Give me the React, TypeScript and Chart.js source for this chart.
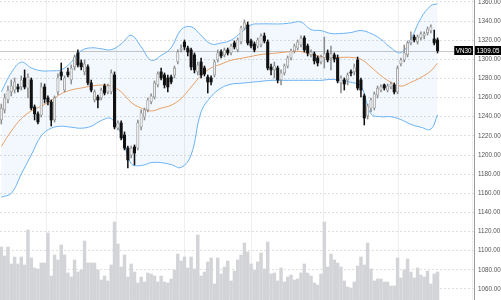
import React, { useEffect, useRef } from 'react';
import { Chart, registerables } from 'chart.js';

Chart.register(...registerables);

const symbol = 'VN30';
const lastPrice = 1309.05;

const opens = [
  1236.6, 1247.1, 1257.5, 1265.9, 1267.9, 1271.1, 1271.1, 1280.5, 1270.0, 1278.4,
  1250.2, 1242.9, 1241.8, 1271.1, 1259.6, 1255.4, 1236.6, 1265.9, 1286.8, 1267.9,
  1286.8, 1278.4, 1292.0, 1306.6, 1296.2, 1286.8, 1292.0, 1275.3, 1257.5, 1260.6,
  1259.6, 1272.1, 1265.9, 1265.9, 1283.6, 1228.2, 1233.5, 1220.9, 1207.3, 1200.0,
  1208.4, 1207.3, 1229.3, 1239.7, 1247.1, 1255.4, 1260.6, 1273.2, 1286.8, 1283.6,
  1280.5, 1281.5, 1283.6, 1297.2, 1309.8, 1318.1, 1311.8, 1309.8, 1304.5, 1286.8,
  1297.2, 1290.9, 1281.5, 1280.5, 1283.6, 1299.3, 1307.7, 1304.5, 1309.8, 1306.6,
  1317.1, 1309.8, 1318.1, 1332.7, 1335.9, 1319.2, 1316.0, 1313.9, 1315.0, 1324.4,
  1318.1, 1292.0, 1288.9, 1290.9, 1278.4, 1285.7, 1293.0, 1301.4, 1308.7, 1311.8,
  1315.0, 1322.3, 1313.9, 1304.5, 1305.6, 1301.4, 1297.2, 1301.4, 1306.6, 1301.4,
  1304.5, 1301.4, 1275.3, 1278.4, 1278.4, 1286.8, 1286.8, 1299.3, 1278.4, 1261.7,
  1240.8, 1249.1, 1249.1, 1262.7, 1267.9, 1273.2, 1267.9, 1271.1, 1273.2, 1265.9,
  1295.1, 1299.3, 1304.5, 1317.1, 1323.3, 1318.1, 1322.3, 1324.4, 1327.5, 1329.6,
  1321.2, 1320.2,
];

const closes = [
  1249.1, 1259.6, 1267.9, 1272.1, 1276.3, 1269.0, 1278.4, 1271.1, 1281.5, 1249.1,
  1242.9, 1234.5, 1271.1, 1258.5, 1255.4, 1236.6, 1259.6, 1280.5, 1282.6, 1280.5,
  1283.6, 1290.9, 1302.4, 1294.1, 1292.0, 1295.1, 1275.3, 1267.9, 1265.9, 1257.5,
  1267.9, 1264.8, 1272.1, 1285.7, 1229.3, 1233.5, 1217.8, 1207.3, 1194.8, 1207.3,
  1202.1, 1233.5, 1243.9, 1247.1, 1257.5, 1261.7, 1275.3, 1284.7, 1280.5, 1273.2,
  1271.1, 1276.3, 1290.9, 1307.7, 1311.8, 1312.9, 1307.7, 1292.0, 1288.9, 1294.1,
  1283.6, 1284.7, 1276.3, 1276.3, 1297.2, 1306.6, 1303.5, 1309.8, 1306.6, 1313.9,
  1312.9, 1320.2, 1332.7, 1338.0, 1317.1, 1313.9, 1309.8, 1320.2, 1324.4, 1319.2,
  1290.9, 1288.9, 1293.0, 1278.4, 1285.7, 1293.0, 1301.4, 1308.7, 1313.9, 1318.1,
  1322.3, 1309.8, 1306.6, 1307.7, 1298.3, 1296.2, 1302.4, 1305.6, 1299.3, 1305.6,
  1300.3, 1277.4, 1280.5, 1274.2, 1283.6, 1285.7, 1292.0, 1270.0, 1267.9, 1238.7,
  1251.2, 1257.5, 1263.8, 1270.0, 1271.1, 1270.0, 1272.1, 1274.2, 1265.9, 1290.9,
  1299.3, 1306.6, 1317.1, 1320.2, 1320.2, 1323.3, 1326.5, 1326.5, 1331.7, 1333.8,
  1317.1, 1309.05,
];

const highs = [
  1253.3, 1263.8, 1272.1, 1278.4, 1280.5, 1274.2, 1282.6, 1288.9, 1284.7, 1280.5,
  1252.3, 1245.0, 1275.3, 1274.2, 1261.7, 1257.5, 1261.7, 1284.7, 1296.2, 1282.6,
  1290.9, 1294.1, 1304.5, 1309.8, 1299.3, 1299.3, 1294.1, 1278.4, 1267.9, 1262.7,
  1270.0, 1274.2, 1274.2, 1288.9, 1286.8, 1235.6, 1235.6, 1224.1, 1209.4, 1209.4,
  1210.5, 1236.6, 1247.1, 1249.1, 1259.6, 1263.8, 1277.4, 1286.8, 1290.9, 1285.7,
  1283.6, 1283.6, 1293.0, 1309.8, 1315.0, 1320.2, 1313.9, 1311.8, 1306.6, 1297.2,
  1301.4, 1293.0, 1283.6, 1282.6, 1299.3, 1309.8, 1309.8, 1311.8, 1311.8, 1316.0,
  1319.2, 1322.3, 1334.8, 1341.1, 1339.0, 1321.2, 1318.1, 1322.3, 1326.5, 1327.5,
  1320.2, 1295.1, 1297.2, 1293.0, 1288.9, 1295.1, 1303.5, 1310.8, 1316.0, 1320.2,
  1324.4, 1324.4, 1316.0, 1309.8, 1307.7, 1303.5, 1304.5, 1323.3, 1309.8, 1313.9,
  1306.6, 1304.5, 1282.6, 1280.5, 1285.7, 1288.9, 1295.1, 1302.4, 1280.5, 1263.8,
  1253.3, 1259.6, 1265.9, 1272.1, 1273.2, 1274.2, 1274.2, 1276.3, 1275.3, 1293.0,
  1301.4, 1315.0, 1319.2, 1328.6, 1325.4, 1325.4, 1328.6, 1328.6, 1333.8, 1335.9,
  1330.6, 1322.3,
];

const lows = [
  1232.4, 1243.9, 1254.4, 1261.7, 1264.8, 1265.9, 1267.9, 1269.0, 1259.6, 1247.1,
  1236.6, 1232.4, 1239.7, 1254.4, 1252.3, 1230.3, 1234.5, 1262.7, 1278.4, 1265.9,
  1281.5, 1274.2, 1288.9, 1292.0, 1288.9, 1283.6, 1273.2, 1265.9, 1255.4, 1249.1,
  1257.5, 1262.7, 1263.8, 1263.8, 1227.2, 1226.2, 1215.7, 1205.3, 1186.4, 1196.9,
  1189.6, 1205.3, 1226.2, 1236.6, 1245.0, 1253.3, 1258.5, 1271.1, 1278.4, 1270.0,
  1265.9, 1274.2, 1280.5, 1295.1, 1307.7, 1309.8, 1303.5, 1288.9, 1285.7, 1283.6,
  1280.5, 1282.6, 1264.8, 1273.2, 1281.5, 1297.2, 1301.4, 1302.4, 1304.5, 1304.5,
  1310.8, 1307.7, 1316.0, 1330.6, 1315.0, 1311.8, 1307.7, 1311.8, 1312.9, 1317.1,
  1288.9, 1283.6, 1280.5, 1275.3, 1273.2, 1283.6, 1290.9, 1299.3, 1306.6, 1309.8,
  1312.9, 1307.7, 1303.5, 1302.4, 1295.1, 1293.0, 1295.1, 1290.9, 1297.2, 1288.9,
  1297.2, 1275.3, 1264.8, 1267.9, 1273.2, 1282.6, 1283.6, 1267.9, 1260.6, 1231.4,
  1237.6, 1245.0, 1247.1, 1259.6, 1265.9, 1267.9, 1265.9, 1269.0, 1263.8, 1263.8,
  1293.0, 1297.2, 1302.4, 1315.0, 1318.1, 1316.0, 1320.2, 1321.2, 1325.4, 1327.5,
  1315.0, 1306.6,
];

const volumes = [
  53, 44, 53, 36, 43, 36, 43, 35, 70, 42,
  32, 31, 37, 37, 67, 24, 45, 40, 55, 45,
  27, 23, 40, 28, 30, 59, 37, 37, 37, 30,
  20, 24, 19, 35, 78, 56, 33, 45, 23, 36,
  28, 17, 23, 18, 27, 26, 24, 18, 24, 18,
  17, 21, 30, 46, 39, 43, 32, 43, 31, 65,
  24, 28, 38, 42, 16, 42, 26, 33, 39, 19,
  29, 40, 45, 57, 48, 36, 30, 38, 47, 31,
  58, 26, 27, 19, 32, 18, 23, 25, 20, 21,
  27, 36, 27, 24, 17, 15, 26, 78, 33, 46,
  40, 37, 33, 19, 13, 12, 18, 34, 43, 35,
  57, 31, 19, 21, 21, 18, 18, 14, 14, 42,
  22, 30, 41, 28, 22, 32, 25, 23, 29, 16,
  26, 28,
];

const bandSlots = [
  0, 3, 6, 9, 12, 15, 18, 21, 24, 27, 30, 33, 36, 39, 42, 45, 48, 51, 54, 57, 60, 63,
  66, 69, 72, 75, 78, 81, 84, 87, 90, 93, 96, 99, 102, 105, 108, 111, 114, 117, 120,
  123, 126, 129, 131,
];

const upperBand = [
  1266, 1286, 1297, 1291, 1288, 1288, 1289, 1297, 1309, 1312, 1311, 1310, 1316, 1325,
  1313, 1299, 1304, 1312, 1331, 1334, 1325, 1316, 1317, 1320, 1328, 1336, 1337, 1337,
  1337, 1338, 1339, 1331, 1330, 1327, 1327, 1328, 1330, 1327, 1321, 1312, 1307, 1321,
  1343, 1356, 1358,
];

const lowerBand = [
  1156, 1160, 1180, 1200, 1220, 1228, 1230, 1229, 1228, 1230, 1236, 1238, 1222, 1191,
  1189, 1192, 1192, 1190, 1187, 1200, 1245, 1261, 1270, 1274, 1275, 1276, 1277, 1278,
  1278, 1278, 1278, 1278, 1278, 1279, 1278, 1276, 1272, 1243, 1240, 1240, 1237, 1232,
  1229, 1227, 1242,
];

const maLine = [
  1209, 1225, 1238, 1246, 1251, 1257, 1264, 1268, 1270, 1272, 1273, 1272, 1266, 1255,
  1249, 1246, 1249, 1252, 1259, 1271, 1283, 1291, 1295, 1299, 1301, 1303, 1305, 1306,
  1307, 1308, 1308, 1305, 1303, 1302, 1302, 1302, 1300, 1292, 1283, 1276, 1272, 1276,
  1281, 1288, 1296,
];

const monthLines = [3.2, 24.2, 44.7, 65.1, 85.2, 108.3, 130.5];

const priceTicks = [
  1060, 1080, 1100, 1120, 1140, 1160, 1180, 1200, 1220, 1240, 1260, 1280, 1300, 1320,
  1340, 1360,
];

const FONT = '"Liberation Sans", Arial, sans-serif';

const overlayPlugin = {
  id: 'priceOverlay',
  beforeDatasetsDraw(chart: any) {
    const { ctx, chartArea, scales } = chart;
    const y = Math.round(scales.y.getPixelForValue(lastPrice)) + 0.5;
    ctx.save();
    ctx.strokeStyle = '#c9c9c9';
    ctx.lineWidth = 1;
    ctx.beginPath();
    ctx.moveTo(chartArea.left, y);
    ctx.lineTo(chartArea.right, y);
    ctx.stroke();
    ctx.restore();
  },
  afterDraw(chart: any) {
    const { ctx, chartArea, scales, width } = chart;
    const y = scales.y.getPixelForValue(lastPrice);
    const h = 9;
    const top = Math.round(y - h / 2);
    ctx.save();
    ctx.font = `6.3px ${FONT}`;
    ctx.textBaseline = 'middle';
    ctx.textAlign = 'center';
    // symbol box (inside plot)
    const sw = ctx.measureText(symbol).width + 3;
    const sx = chartArea.right - 1 - sw;
    ctx.fillStyle = '#000';
    ctx.fillRect(sx, top, sw, h);
    ctx.fillStyle = '#fff';
    ctx.fillText(symbol, sx + sw / 2, top + h / 2 + 0.5);
    // price box (on axis)
    const px = chartArea.right + 1;
    const pw = width - px;
    ctx.fillStyle = '#000';
    ctx.fillRect(px, top, pw, h);
    ctx.fillStyle = '#fff';
    ctx.fillText(lastPrice.toFixed(2), px + pw / 2, top + h / 2 + 0.5);
    ctx.restore();
  },
};

export default function App() {
  const ref = useRef<HTMLCanvasElement>(null);

  useEffect(() => {
    document.body.style.margin = '0';
    document.documentElement.style.overflow = 'hidden';
    const canvas = ref.current;
    if (!canvas) return;

    const idx = opens.map((_, i) => i);
    const isUp = idx.map((i) => closes[i] >= opens[i]);
    const upBody = '#ececec';
    const upLine = '#8e8e8e';
    const downCol = '#111111';

    const line = (vals: number[]) => bandSlots.map((s, i) => ({ x: s, y: vals[i] }));

    const chart = new Chart(canvas, {
      type: 'bar',
      data: {
        datasets: [
          {
            type: 'bar',
            label: 'body',
            data: idx.map((i) => ({ x: i, y: [opens[i], closes[i]] })) as any,
            backgroundColor: idx.map((i) => (isUp[i] ? upBody : downCol)),
            borderColor: idx.map((i) => (isUp[i] ? upLine : downCol)),
            borderWidth: idx.map((i) => (isUp[i] ? 0.7 : 0)) as any,
            borderSkipped: false,
            barThickness: 2.4,
            minBarLength: 1,
            grouped: false,
            order: 0,
            yAxisID: 'y',
          },
          {
            type: 'bar',
            label: 'wick',
            data: idx.map((i) => ({ x: i, y: [lows[i], highs[i]] })) as any,
            backgroundColor: idx.map((i) => (isUp[i] ? upLine : downCol)),
            borderWidth: 0,
            barThickness: 0.9,
            grouped: false,
            order: 1,
            yAxisID: 'y',
          },
          {
            type: 'line',
            label: 'upper',
            data: line(upperBand) as any,
            borderColor: '#6db3f2',
            borderWidth: 1,
            pointRadius: 0,
            tension: 0.4,
            fill: '+1',
            backgroundColor: 'rgba(40,140,235,0.06)',
            order: 2,
            yAxisID: 'y',
          },
          {
            type: 'line',
            label: 'lower',
            data: line(lowerBand) as any,
            borderColor: '#6db3f2',
            borderWidth: 1,
            pointRadius: 0,
            tension: 0.4,
            fill: false,
            order: 3,
            yAxisID: 'y',
          },
          {
            type: 'line',
            label: 'ma',
            data: line(maLine) as any,
            borderColor: '#f5a15d',
            borderWidth: 1,
            pointRadius: 0,
            tension: 0.4,
            fill: false,
            order: 2,
            yAxisID: 'y',
          },
          {
            type: 'bar',
            label: 'volume',
            data: idx.map((i) => ({ x: i, y: volumes[i] })) as any,
            backgroundColor: '#d3d4d8',
            borderWidth: 0,
            barThickness: 2.8,
            grouped: false,
            order: 5,
            yAxisID: 'yv',
          },
        ],
      },
      options: {
        responsive: false,
        animation: false,
        events: [],
        layout: { padding: 0 },
        plugins: {
          legend: { display: false },
          tooltip: { enabled: false },
        },
        scales: {
          x: {
            type: 'linear',
            min: -0.39,
            max: 141.95,
            offset: false,
            display: true,
            ticks: { display: false },
            grid: { color: '#efefef', lineWidth: 1, drawTicks: false },
            border: { display: false },
            afterBuildTicks: (scale: any) => {
              scale.ticks = monthLines.map((v) => ({ value: v }));
            },
            afterFit: (scale: any) => {
              scale.height = 0;
              scale.paddingLeft = 0;
              scale.paddingRight = 0;
            },
          },
          y: {
            type: 'linear',
            position: 'right',
            min: 1048.5,
            max: 1361.96,
            afterBuildTicks: (scale: any) => {
              scale.ticks = priceTicks.map((v) => ({ value: v }));
            },
            afterFit: (scale: any) => {
              scale.width = 27;
              scale.paddingTop = 0;
              scale.paddingBottom = 0;
            },
            ticks: {
              autoSkip: false,
              padding: 4,
              color: '#555555',
              font: { family: FONT, size: 6.3 },
              callback: (v: any) => Number(v).toFixed(2),
            },
            grid: { color: '#dedede', lineWidth: 1, drawTicks: false },
            border: { display: true, color: '#9a9a9a', width: 1, dash: [2, 2] },
          },
          yv: {
            type: 'linear',
            display: false,
            min: 0,
            max: 300,
          },
        },
      },
      plugins: [overlayPlugin],
    });

    return () => chart.destroy();
  }, []);

  return (
    <canvas
      ref={ref}
      width={501}
      height={300}
      style={{ display: 'block', width: 501, height: 300 }}
    />
  );
}
